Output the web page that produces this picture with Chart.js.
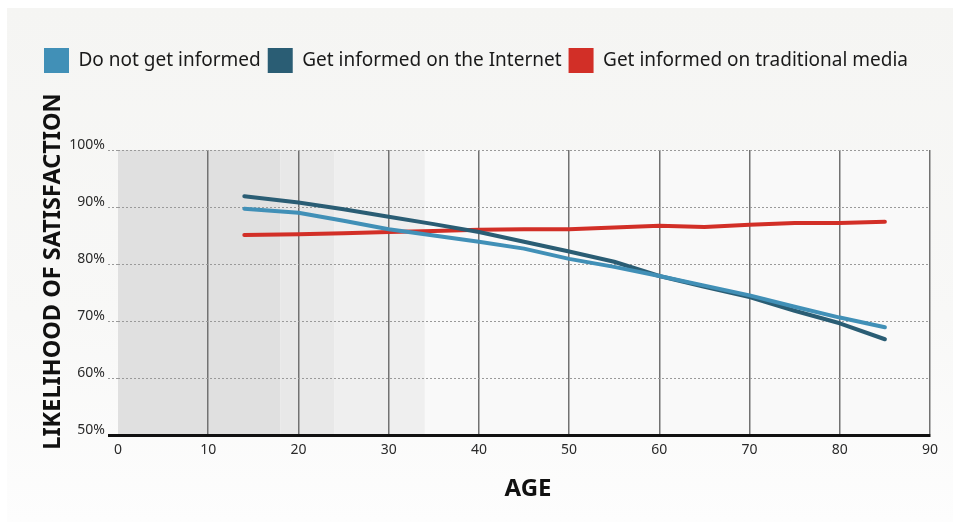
<!DOCTYPE html>
<html>
<head>
<meta charset="utf-8">
<script src="https://cdn.jsdelivr.net/npm/chart.js@4/dist/chart.umd.min.js"></script>
<style>
  html, body { margin: 0; padding: 0; background: #ffffff; }
  #card { position: absolute; left: 7px; top: 8px; width: 946px; height: 514px;
          background: linear-gradient(#f5f5f3, #f8f8f7 60%, #fdfdfd); }
  #wrap { position: absolute; left: 0; top: 0; width: 953px; height: 522px; }
</style>
</head>
<body>
<div id="card"></div>
<div id="wrap"><canvas id="c" width="953" height="522"></canvas></div>
<script>
// Age points where each series is sampled
const ages = [14, 20, 25, 30, 35, 40, 45, 50, 55, 60, 65, 70, 75, 80, 85];

// Likelihood of satisfaction (%) by age
const notInformed = [89.7, 89.0, 87.6, 86.1, 85.0, 83.9, 82.7, 80.9, 79.5, 77.9, 76.2, 74.5, 72.5, 70.6, 68.9];
const internet    = [91.9, 90.8, 89.6, 88.3, 87.0, 85.6, 83.9, 82.2, 80.4, 77.9, 76.0, 74.2, 71.8, 69.6, 66.8];
const traditional = [85.1, 85.2, 85.4, 85.6, 85.8, 86.0, 86.1, 86.1, 86.4, 86.7, 86.5, 86.9, 87.2, 87.2, 87.4];

const seriesNames = ['Do not get informed', 'Get informed on the Internet', 'Get informed on traditional media'];
const seriesColors = ['#4190b7', '#2a5d74', '#d22f27'];

// Shaded age bands behind the plot
const bandEdges = [0, 18, 24, 34];
const bandColors = ['#e0e0e0', '#e8e8e8', '#efefef'];

// Axes
const xTicks = [0, 10, 20, 30, 40, 50, 60, 70, 80, 90];
const yTicks = [50, 60, 70, 80, 90, 100];
const xTitle = 'AGE';
const yTitle = 'LIKELIHOOD OF SATISFACTION';

const FONT = "'Noto Sans', 'Open Sans', sans-serif";

const toPoints = vals => ages.map((a, i) => ({ x: a, y: vals[i] }));

const backdrop = {
  id: 'backdrop',
  afterInit(chart) {
    // reserve the space between the legend row and the plot
    const lg = chart.legend;
    const baseFit = lg.fit;
    lg.fit = function () { baseFit.call(this); this.height = 109; };
  },
  beforeDraw(chart) {
    const { ctx, chartArea: a, scales: { x } } = chart;
    ctx.save();
    ctx.fillStyle = '#f9f9f9';
    ctx.fillRect(a.left, a.top, a.right - a.left, a.bottom - a.top);
    for (let i = 0; i < bandColors.length; i++) {
      const x0 = x.getPixelForValue(bandEdges[i]);
      const x1 = x.getPixelForValue(bandEdges[i + 1]);
      ctx.fillStyle = bandColors[i];
      ctx.fillRect(x0, a.top, x1 - x0, a.bottom - a.top);
    }
    ctx.restore();
  },
  afterDraw(chart) {
    const { ctx, chartArea: a } = chart;
    ctx.save();
    ctx.fillStyle = '#111';
    ctx.textAlign = 'center';
    ctx.textBaseline = 'middle';
    ctx.font = `bold 24px ${FONT}`;
    ctx.fillText(xTitle, (a.left + a.right) / 2 + 4, a.bottom + 54);
    ctx.translate(a.left - 65, (a.top + a.bottom) / 2 - 21);
    ctx.rotate(-Math.PI / 2);
    ctx.font = `bold 23.5px ${FONT}`;
    ctx.fillText(yTitle, 0, 0);
    ctx.restore();
  }
};

new Chart(document.getElementById('c'), {
  type: 'line',
  data: {
    datasets: [notInformed, internet, traditional].map((vals, i) => ({
      label: seriesNames[i],
      data: toPoints(vals),
      borderColor: seriesColors[i],
      backgroundColor: seriesColors[i],
      borderWidth: 4,
      pointRadius: 0,
      tension: 0,
      borderCapStyle: 'round',
      borderJoinStyle: 'round'
    }))
  },
  options: {
    responsive: false,
    devicePixelRatio: 1,
    animation: false,
    layout: { padding: { left: 37, top: 41, right: 23, bottom: 0 } },
    plugins: {
      tooltip: { enabled: false },
      legend: {
        position: 'top',
        align: 'start',
        labels: {
          boxWidth: 25,
          boxHeight: 25,
          padding: 7,
          color: '#1a1a1a',
          font: { family: FONT, size: 19 },
          generateLabels: chart => chart.data.datasets.map((d, i) => ({
            text: d.label,
            fillStyle: seriesColors[i],
            strokeStyle: seriesColors[i],
            lineWidth: 0,
            fontColor: '#1a1a1a',
            datasetIndex: i
          }))
        }
      }
    },
    scales: {
      x: {
        type: 'linear',
        min: xTicks[0],
        max: xTicks[xTicks.length - 1],
        afterBuildTicks: s => { s.ticks = xTicks.map(v => ({ value: v })); },
        afterFit: s => { s.height = 87; },
        ticks: { color: '#2a2a2a', font: { family: FONT, size: 14 }, padding: 7 },
        grid: {
          color: c => (c.tick && c.tick.value === 0) ? 'rgba(0,0,0,0)' : '#727272',
          lineWidth: 1.5,
          drawTicks: false
        },
        border: { color: '#111', width: 3 }
      },
      y: {
        min: yTicks[0],
        max: yTicks[yTicks.length - 1],
        afterBuildTicks: s => { s.ticks = yTicks.map(v => ({ value: v })); },
        afterFit: s => { s.width = 81; },
        ticks: {
          color: '#2a2a2a',
          font: { family: FONT, size: 14 },
          padding: 3,
          labelOffset: -5,
          callback: v => v + '%'
        },
        grid: {
          color: c => (c.tick && c.tick.value === 50) ? 'rgba(0,0,0,0)' : '#9a9a9a',
          lineWidth: 1,
          tickLength: 10,
          tickColor: c => (c.tick && c.tick.value === 50) ? '#111' : '#9a9a9a',
          tickWidth: c => (c.tick && c.tick.value === 50) ? 3 : 1,
          tickBorderDash: c => (c.tick && c.tick.value === 50) ? [] : [2, 2]
        },
        border: { display: false, dash: [2, 2] }
      }
    }
  },
  plugins: [backdrop]
});
</script>
</body>
</html>
